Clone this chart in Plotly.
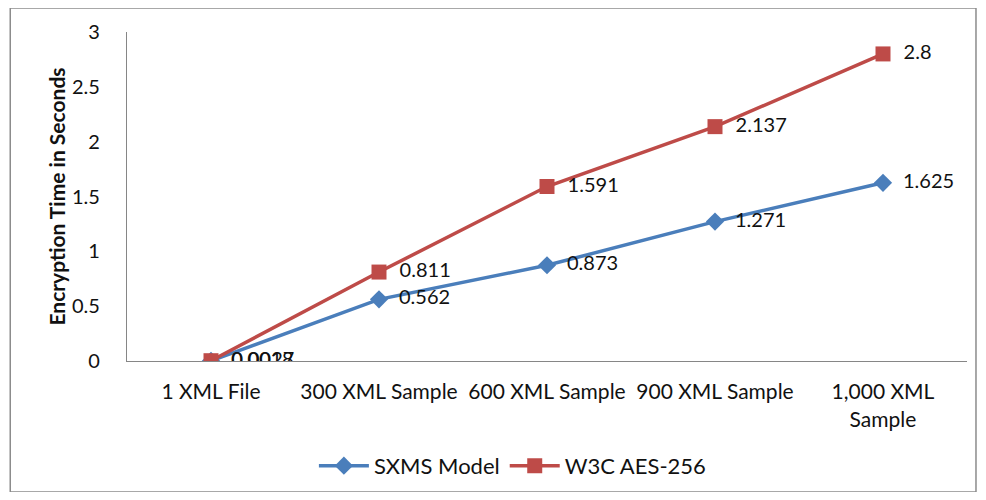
import plotly.graph_objects as go

categories = ["1 XML File", "300 XML Sample", "600 XML Sample", "900 XML Sample", "1,000 XML<br>Sample"]
sxms_model = [0.0018, 0.562, 0.873, 1.271, 1.625]
w3c_aes256 = [0.0027, 0.811, 1.591, 2.137, 2.8]
y_ticks = [0, 0.5, 1, 1.5, 2, 2.5, 3]

FONT = "Lato, 'Open Sans', sans-serif"

fig = go.Figure()

fig.add_trace(go.Scatter(
    x=categories, y=sxms_model, name="SXMS Model",
    mode="lines+markers+text",
    line=dict(color="#4A7EBB", width=3.5),
    marker=dict(symbol="diamond", size=14, color="#4A7EBB"),
    text=["  " + str(v) for v in sxms_model],
    textposition="middle right",
    textfont=dict(size=20, color="#111"),
))

fig.add_trace(go.Scatter(
    x=categories, y=w3c_aes256, name="W3C AES-256",
    mode="lines+markers+text",
    line=dict(color="#BE4B48", width=3.5),
    marker=dict(symbol="square", size=15, color="#BE4B48"),
    text=["  " + str(v) for v in w3c_aes256],
    textposition="middle right",
    textfont=dict(size=20, color="#111"),
))

# outer chart border
fig.add_shape(type="rect", xref="paper", yref="paper",
              x0=-0.139, x1=1.0107, y0=-0.398, y1=1.073,
              line=dict(color="#8c8c8c", width=1.5), layer="below")

fig.update_layout(
    width=970, height=484,
    margin=dict(l=119, r=11, t=24, b=131),
    plot_bgcolor="white", paper_bgcolor="white",
    font=dict(family=FONT, size=20, color="#111"),
    showlegend=True,
    legend=dict(orientation="h", xref="container", yref="container",
                x=0.52, y=0.054, xanchor="center", yanchor="middle",
                font=dict(size=22), itemwidth=50, tracegroupgap=0),
    xaxis=dict(
        range=[-0.5, 4.5], showgrid=False, zeroline=False, automargin=False,
        showline=True, linecolor="#868686", linewidth=1.2,
        ticks="", ticklabelstandoff=12, tickfont=dict(size=21),
    ),
    yaxis=dict(
        range=[0, 3], tickvals=y_ticks, ticktext=[str(v) for v in y_ticks],
        showgrid=False, zeroline=False, automargin=False,
        showline=True, linecolor="#868686", linewidth=1.2,
        ticks="", ticklabelstandoff=22, tickfont=dict(size=20),
        title=dict(text="<b>Encryption Time in Seconds</b>", font=dict(size=21), standoff=0),
    ),
)

fig.write_html("out.html")
